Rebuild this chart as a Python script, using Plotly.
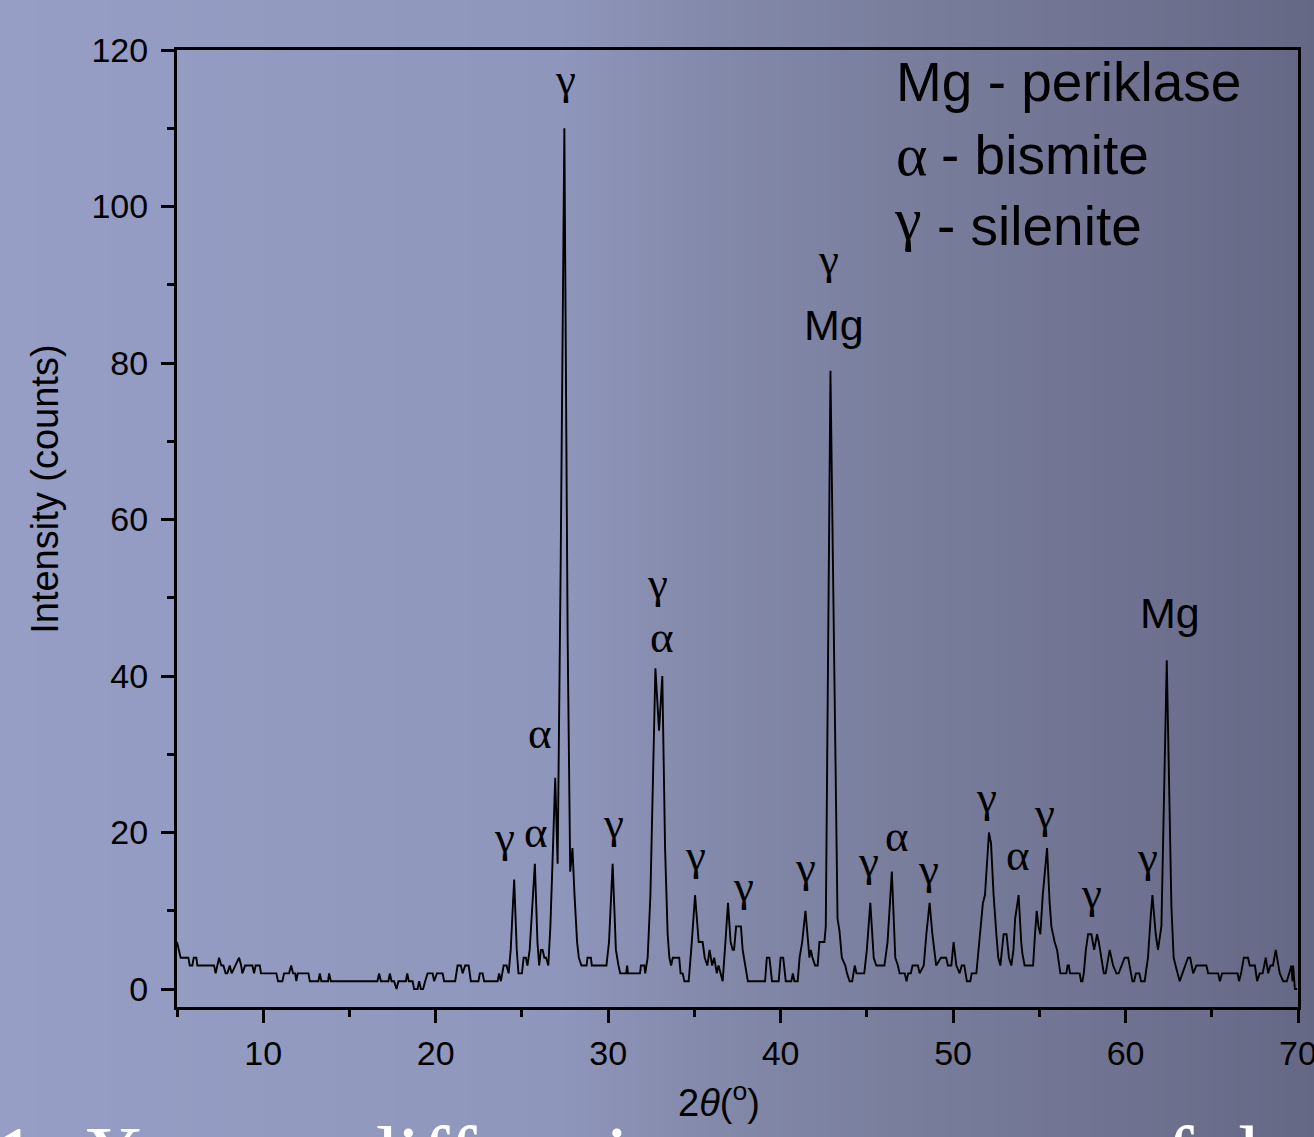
import plotly.graph_objects as go

# ---------------- data ----------------
two_theta = [
    5.0, 5.1, 5.21, 5.66, 5.74, 5.89, 5.97, 6.12, 6.18, 7.15, 7.24, 7.44, 7.57, 7.69, 7.82, 7.92,
    8.06, 8.17, 8.37, 8.60, 8.72, 8.79, 8.95, 9.37, 9.47, 9.56, 9.80, 9.87, 10.76, 10.86, 11.11,
    11.21, 11.50, 11.62, 11.73, 11.85, 11.92, 12.0, 12.62, 12.70, 13.20, 13.28, 13.37, 13.76,
    13.82, 13.92, 16.62, 16.72, 16.82, 17.26, 17.34, 17.44, 17.59, 17.73, 17.84, 18.27, 18.35,
    18.44, 18.66, 18.75, 18.95, 19.04, 19.14, 19.27, 19.39, 19.53, 19.82, 19.91, 20.07, 20.40,
    20.49, 21.13, 21.27, 21.46, 21.56, 21.71, 21.91, 22.04, 22.48, 22.56, 22.72, 22.81, 23.59,
    23.68, 23.78, 23.94, 24.11, 24.23, 24.35, 24.55, 24.70, 24.80, 25.00, 25.10, 25.23, 25.32,
    25.45, 25.60, 25.75, 25.90, 26.00, 26.10, 26.20, 26.30, 26.40, 26.53, 26.65, 26.80, 26.93,
    27.07, 27.25, 27.46, 27.65, 27.80, 27.93, 28.05, 28.20, 28.30, 28.45, 28.75, 28.80, 29.00,
    29.05, 29.90, 30.05, 30.26, 30.45, 30.60, 30.70, 31.05, 31.10, 31.15, 31.85, 31.90, 32.10,
    32.15, 32.29, 32.45, 32.60, 32.74, 32.95, 33.14, 33.30, 33.45, 33.55, 33.65, 33.75, 34.12,
    34.20, 34.32, 34.42, 34.67, 34.85, 35.04, 35.25, 35.48, 35.60, 35.75, 35.88, 36.03, 36.15,
    36.30, 36.40, 36.50, 36.64, 36.80, 36.95, 37.10, 37.22, 37.30, 37.42, 37.70, 37.80, 37.95,
    38.10, 39.10, 39.20, 39.35, 39.50, 39.89, 40.00, 40.15, 40.30, 40.62, 40.71, 40.80, 40.99,
    41.10, 41.25, 41.44, 41.60, 41.67, 41.75, 41.85, 42.00, 42.15, 42.25, 42.54, 42.62, 42.89,
    43.30, 43.41, 43.55, 43.65, 43.75, 43.85, 44.00, 44.15, 44.30, 44.40, 44.85, 45.00, 45.20,
    45.40, 45.55, 46.02, 46.20, 46.45, 46.65, 46.80, 46.90, 47.20, 47.30, 47.40, 47.55, 47.65,
    47.96, 48.06, 48.30, 48.45, 48.64, 48.80, 48.95, 49.02, 49.30, 49.60, 49.70, 49.90, 50.03,
    50.19, 50.38, 50.50, 50.65, 50.80, 51.00, 51.08, 51.35, 51.54, 51.73, 51.85, 52.08, 52.20,
    52.35, 52.51, 52.62, 52.74, 52.85, 52.93, 53.10, 53.24, 53.38, 53.50, 53.60, 53.80, 53.95,
    54.02, 54.15, 54.25, 54.64, 54.75, 54.85, 54.95, 55.06, 55.20, 55.45, 55.60, 55.70, 55.89,
    56.03, 56.22, 56.57, 56.64, 56.71, 56.78, 57.34, 57.42, 57.50, 57.58, 57.70, 57.83, 58.02,
    58.18, 58.35, 58.45, 58.60, 58.74, 58.85, 59.08, 59.28, 59.47, 59.60, 59.76, 59.95, 60.15,
    60.30, 60.40, 60.50, 60.60, 60.80, 60.90, 61.11, 61.30, 61.45, 61.56, 61.75, 61.88, 62.08,
    62.39, 62.66, 62.79, 62.90, 63.14, 63.30, 63.45, 63.62, 63.75, 63.92, 64.11, 64.69, 64.79,
    65.37, 65.47, 65.60, 66.50, 66.58, 66.70, 66.86, 67.10, 67.20, 67.50, 67.63, 67.78, 67.95,
    68.13, 68.27, 68.40, 68.55, 68.71, 68.94, 69.14, 69.35, 69.49, 69.62, 69.68, 69.72, 69.82,
    69.95,
]
intensity = [
    6, 5, 4, 4, 3, 3, 4, 4, 3, 3, 2, 4, 3, 3, 2, 2,
    3, 2, 3, 4, 3, 2, 3, 3, 2, 3, 3, 2, 2, 1, 1,
    2, 2, 3, 2, 2, 1, 2, 2, 1, 1, 2, 1, 1,
    2, 1, 1, 2, 1, 1, 2, 1, 1, 0, 1, 1, 2,
    1, 1, 0, 0, 1, 0, 0, 1, 2, 2, 1, 2, 2,
    1, 1, 3, 3, 2, 3, 3, 1, 1, 2, 2, 1, 1,
    2, 1, 3, 3, 2, 5, 14, 5, 2, 2, 4, 4, 3,
    5, 10, 16, 6, 3, 5, 5, 4, 4, 3, 8, 18, 27,
    16, 55, 110, 45, 15, 18, 12, 6, 4, 3, 3, 4, 4,
    3, 3, 6, 16, 5, 3, 2, 2, 3, 2, 2, 3, 3,
    2, 4, 12, 28, 41, 33, 40, 18, 7, 4, 3, 4, 4,
    2, 2, 1, 1, 6, 12, 6, 6, 4, 3, 5, 3, 4,
    2, 3, 2, 1, 6, 11, 6, 5, 5, 8, 8, 5, 3,
    1, 1, 4, 4, 1, 1, 4, 4, 1, 1, 2, 1, 1,
    4, 6, 10, 5, 4, 5, 4, 3, 3, 6, 6, 8, 79,
    9, 7.5, 4, 3.5, 3, 2, 1, 1, 3, 2, 2, 5, 11,
    4, 3, 3, 6, 15, 4, 3, 2, 2, 1, 2, 2, 3,
    3, 2, 3, 7, 11, 7, 4, 3, 4, 4, 3, 3, 6,
    3, 2, 3, 3, 1, 1, 2, 2, 7, 11, 12, 20, 18.6,
    12, 7, 4, 3, 5, 7, 7, 4, 3, 5, 9, 12, 6,
    4.5, 3, 3, 3, 7, 10, 8, 7, 12, 18, 11, 8, 6,
    5, 2, 2, 3, 3, 2, 2, 1, 1, 2, 5, 7, 7,
    5, 7, 6, 4, 2, 2, 5, 3, 2, 2, 3, 4, 4,
    2, 1, 1, 2, 2, 1, 1, 4, 9, 12, 7, 5, 8,
    42, 10.5, 4, 3, 1, 2, 3, 4, 4, 2, 3, 3, 2,
    2, 1, 2, 2, 1, 2, 4, 4, 3, 3, 1, 2, 2,
    4, 2, 3, 3, 5, 2, 1, 1, 2, 3, 1, 3, 0,
    0,
]

# peak labels: (text, 2theta, intensity position)
label_text = ["γ", "γ", "Mg", "γ", "α", "α", "γ", "α", "γ", "γ", "γ", "γ", "γ", "α",
              "γ", "γ", "α", "γ", "γ", "γ", "Mg"]
label_x = [27.51, 42.78, 43.12, 32.85, 33.14, 26.06, 23.98, 25.83, 30.30, 35.06, 37.84,
           41.44, 45.10, 46.72, 48.58, 51.94, 53.74, 55.31, 58.04, 61.29, 62.56]
label_y = [115.1, 92.1, 84.9, 50.7, 44.5, 32.2, 18.3, 19.6, 20.1, 16.0, 12.0,
           14.4, 15.2, 19.0, 14.2, 23.4, 16.6, 21.3, 11.1, 15.7, 48.1]

legend_symbols = ["Mg", "α", "γ"]
legend_names = ["periklase", "bismite", "silenite"]

x_ticks = [10, 20, 30, 40, 50, 60, 70]
y_ticks = [0, 20, 40, 60, 80, 100, 120]

# ---------------- figure ----------------
W, H = 1314, 1137
L, R, T, B = 177, 16, 50, 130
pw, ph = W - L - R, H - T - B

fig = go.Figure()
fig.add_trace(go.Scatter(x=two_theta, y=intensity, mode="lines",
                         line=dict(color="black", width=1.9), hoverinfo="skip",
                         showlegend=False))

# background gradient (slide background) as thin strips
stops = [(0, (150, 158, 198)), (300, (146, 154, 192)), (560, (143, 150, 187)),
         (720, (131, 137, 169)), (900, (121, 126, 157)), (1100, (112, 116, 146)),
         (1314, (101, 104, 133))]

def col_at(p):
    for (p0, c0), (p1, c1) in zip(stops[:-1], stops[1:]):
        if p0 <= p <= p1:
            t = (p - p0) / (p1 - p0)
            return "rgb(%d,%d,%d)" % tuple(round(a + (b - a) * t) for a, b in zip(c0, c1))
    return "rgb(%d,%d,%d)" % stops[-1][1]

shapes = []
step = 12
for p in range(0, W, step):
    shapes.append(dict(type="rect", xref="paper", yref="paper", layer="below",
                       x0=(p - L) / pw, x1=(p + step + 1 - L) / pw,
                       y0=-(B + 5) / ph, y1=1 + (T + 5) / ph,
                       line=dict(width=0), fillcolor=col_at(p + step / 2)))

ann = []
for t, x, y in zip(label_text, label_x, label_y):
    if t == "Mg":
        ann.append(dict(x=x, y=y, xref="x", yref="y", text=t, showarrow=False,
                        font=dict(family="Liberation Sans, Arial", size=43, color="black")))
    else:
        ann.append(dict(x=x, y=y, xref="x", yref="y", text=t, showarrow=False,
                        yshift=9 if t == "γ" else 4,
                        font=dict(family="Liberation Serif, Times New Roman", size=45,
                                  color="black")))

# legend text block
sans = dict(family="Liberation Sans, Arial", size=55, color="black")
serif = dict(family="Liberation Serif, Times New Roman", size=60, color="black")
ann.append(dict(x=46.55, y=115.9, xref="x", yref="y", xanchor="left", showarrow=False,
                text=legend_symbols[0] + " - " + legend_names[0], font=sans))
ann.append(dict(x=46.55, y=106.6, xref="x", yref="y", xanchor="left", showarrow=False,
                text=legend_symbols[1], font=serif))
ann.append(dict(x=49.20, y=106.6, xref="x", yref="y", xanchor="left", showarrow=False,
                text="- " + legend_names[1], font=sans))
ann.append(dict(x=46.45, y=98.4, xref="x", yref="y", xanchor="left", showarrow=False,
                text=legend_symbols[2], font=serif))
ann.append(dict(x=48.95, y=97.5, xref="x", yref="y", xanchor="left", showarrow=False,
                text="- " + legend_names[2], font=sans))

# axis titles
ann.append(dict(x=(22 - L) / pw, y=63.8, xref="paper", yref="y", showarrow=False,
                textangle=-90, text="Intensity (counts)",
                font=dict(family="Liberation Sans, Arial", size=38, color="black")))
ann.append(dict(x=(719 - L) / pw, y=(H - B - 1126) / ph, xref="paper", yref="paper",
                showarrow=False, text="2<i>θ</i>(<sup>o</sup>)",
                font=dict(family="Liberation Sans, Arial", size=38, color="black")))

# slide caption cut off at the bottom
cap_font = dict(family="Liberation Serif, Times New Roman", size=86, color="white")
for txt, px in [("1: X-ray", -8), ("diffraction pattern", 352), ("of the", 1120)]:
    ann.append(dict(x=(px - L) / pw, y=(H - B - 1107) / ph, xref="paper", yref="paper",
                    xanchor="left", yanchor="top", showarrow=False, text=txt,
                    font=cap_font))

axis_font = dict(family="Liberation Sans, Arial", size=34, color="black")
fig.update_layout(
    width=W, height=H, margin=dict(l=L, r=R, t=T, b=B, autoexpand=False),
    paper_bgcolor="rgb(128,134,166)", plot_bgcolor="rgba(0,0,0,0)",
    shapes=shapes, annotations=ann, showlegend=False,
    xaxis=dict(range=[5, 70], tickvals=x_ticks, ticks="outside", ticklen=13, tickwidth=2.5,
               tickcolor="black", showline=True, linewidth=3, linecolor="black", mirror=True,
               showgrid=False, zeroline=False, tickfont=axis_font, ticklabelstandoff=1,
               ticklabeloverflow="allow",
               minor=dict(dtick=5, tick0=0, ticks="outside", ticklen=7, tickwidth=2.5,
                          tickcolor="black", showgrid=False)),
    yaxis=dict(range=[-2.3, 120], tickvals=y_ticks, ticks="outside", ticklen=13, tickwidth=2.5,
               tickcolor="black", showline=True, linewidth=3, linecolor="black", mirror=True,
               showgrid=False, zeroline=False, tickfont=axis_font, ticklabelstandoff=6,
               minor=dict(dtick=10, tick0=0, ticks="outside", ticklen=7, tickwidth=2.5,
                          tickcolor="black", showgrid=False)),
)

fig.write_html("out.html", config={"displayModeBar": False},
               post_script="document.body.style.margin='0';"
                           "document.body.style.overflow='hidden';")
